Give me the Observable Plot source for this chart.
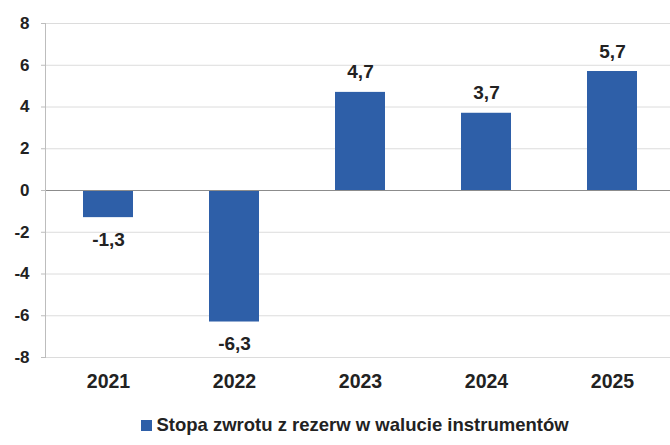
<!DOCTYPE html>
<html>
<head>
<meta charset="utf-8">
<script src="https://cdn.jsdelivr.net/npm/d3@7"></script>
<script src="https://cdn.jsdelivr.net/npm/@observablehq/plot@0.6"></script>
<style>
  html, body { margin: 0; padding: 0; background: #fff; }
  #chart { width: 670px; overflow: hidden; }
  .legend { font-family: "Liberation Sans", Arial, sans-serif; font-weight: bold; font-size: 18.5px; color: #222;
            display: flex; justify-content: center; align-items: center; height: 40px; margin-left: 40px; }
  .legend .sw { width: 11px; height: 11px; background: #2e5fa8; display: inline-block; margin-right: 4px; }
</style>
</head>
<body>
<div id="chart"></div>
<script>
const years = ["2021", "2022", "2023", "2024", "2025"];
const values = [-1.3, -6.3, 4.7, 3.7, 5.7];
const yTicks = [-8, -6, -4, -2, 0, 2, 4, 6, 8];
const seriesName = "Stopa zwrotu z rezerw w walucie instrumentów";

const data = years.map((y, i) => ({year: y, value: values[i]}));
const fmt = v => String(v).replace(".", ",");
const font = "Liberation Sans, Arial, sans-serif";

const plot = Plot.plot({
  width: 670,
  height: 405,
  marginTop: 23,
  marginBottom: 48,
  marginLeft: 45,
  marginRight: 0,
  style: {fontFamily: font, fontSize: "17px", fontWeight: "bold", color: "#222", background: "#fff"},
  x: {domain: years, range: [45, 675], paddingInner: 0.6, paddingOuter: 0.3, label: null},
  y: {domain: [-8, 8], ticks: yTicks, label: null},
  marks: [
    Plot.gridY(yTicks.filter(t => t !== 0), {stroke: "#dcdcdc", strokeOpacity: 1, strokeWidth: 1}),
    Plot.barY(data, {x: "year", y: "value", fill: "#2e5fa8"}),
    Plot.ruleY([0], {stroke: "#8c8c8c", strokeWidth: 1.2}),
    Plot.frame({anchor: "left", stroke: "#bdbdbd"}),
    Plot.axisY({ticks: yTicks, tickSize: 4, tickPadding: 12, stroke: "#bdbdbd", fontSize: 17, fontWeight: "bold", fill: "#222", tickFormat: d => String(d)}),
    Plot.axisX({tickSize: 0, tickPadding: 17, fontSize: 19.5, fontWeight: "bold", fill: "#222"}),
    Plot.text(data.filter(d => d.value >= 0), {x: "year", y: "value", text: d => fmt(d.value),
      dy: -20, fontSize: 19, fontWeight: "bold", fill: "#222"}),
    Plot.text(data.filter(d => d.value < 0), {x: "year", y: "value", text: d => fmt(d.value),
      dy: 22, fontSize: 19, fontWeight: "bold", fill: "#222"})
  ]
});
document.getElementById("chart").appendChild(plot);

const legend = document.createElement("div");
legend.className = "legend";
legend.innerHTML = `<span class="sw"></span><span>${seriesName}</span>`;
document.getElementById("chart").appendChild(legend);
</script>
</body>
</html>
